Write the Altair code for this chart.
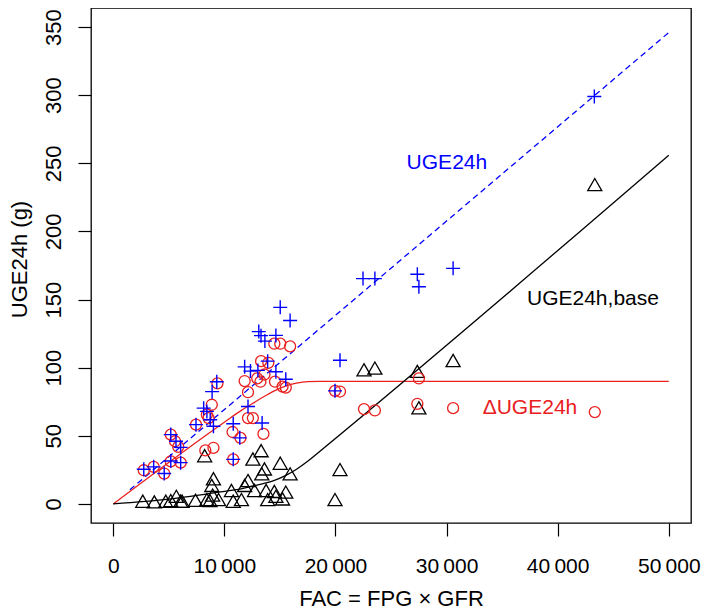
import altair as alt
import pandas as pd

# ---- data ----
uge_x = [2750, 3640, 4590, 5180, 5180, 5650, 6070, 6070, 7450, 8140, 8430, 8730, 8900, 9020, 9320,
         10800, 10800, 11390, 11830, 12130, 12350, 13020, 13100, 13300, 13400, 13650, 13900, 14640,
         14640, 15030, 15530, 15920, 19960, 20410, 22480, 23550, 27370, 27510, 30590, 43300]
uge_y = [25.5, 27.2, 22.3, 50.9, 31.5, 46, 41.5, 30.3, 58.2, 70.3, 67.9, 61.8, 82.4, 57, 89.7,
         58.8, 32.7, 48.5, 100.6, 71.5, 97.5, 98, 126.5, 123.5, 59.4, 119.5, 104.8, 123.7,
         97, 144.3, 91.5, 134.6, 83, 105.5, 165.4, 165.4, 168.6, 159.4, 172.9, 299]

delta_x = [2750, 3640, 4590, 5180, 5180, 5560, 5850, 6070, 7450, 8290, 8430, 8580, 8870, 9020, 9380,
           10740, 10800, 11450, 11830, 12130, 12130, 12570, 12960, 13250, 13310, 13520, 13610, 13960,
           14500, 14560, 15030, 15240, 15530, 15920, 19960, 20410, 22570, 23550, 27370, 27510, 30590, 43340]
delta_y = [24.7, 27.2, 22.3, 50.9, 31.2, 46, 41.9, 30.3, 58.2, 39.3, 65.5, 63, 72.8, 41.2, 88.5,
           52.8, 32.7, 48.5, 90.2, 82, 63, 63, 92.2, 89.7, 104.8, 51.4, 95, 103.6,
           117.6, 89.7, 117.6, 86.1, 85.4, 115.6, 83, 82.5, 69.6, 68.6, 73.5, 92.1, 70.3, 67.4]

base_x = [2660, 3700, 4730, 5180, 5680, 6070, 6200, 7400, 8230, 8430, 8700, 8870, 8950, 9020, 9480,
          10640, 10800, 11540, 11830, 12130, 12570, 12720, 13310, 13370, 13610, 13760, 13900, 14500,
          14640, 15030, 15240, 15530, 15920, 19960, 20410, 22570, 23550, 27370, 27510, 30590, 43340]
base_y = [0.5, 0, 0.5, 1, 4.1, 0.5, 0.5, 1.2, 33.9, 1.7, 1, 12.1, 5, 17, 1.7,
          8.4, 0.5, 1.7, 12.1, 15.7, 31.5, 8.4, 37.6, 20.6, 24.2, 8.4, 1.7, 7.7,
          4.1, 28.4, 2.2, 7.2, 20.6, 1.7, 23.7, 97, 98.2, 95.8, 69.1, 103.8, 232.9]

# fitted curves
uge_fit_x = [1500, 50000]
uge_fit_y = [10.4, 346]
delta_fit_x = [0, 10000, 11500, 12500, 13500, 14500, 15500, 16500, 17500, 18500, 50000]
delta_fit_y = [0, 60, 68.5, 73.5, 78.5, 83, 86.5, 88.7, 89.8, 90, 90]
base_fit_x = [0, 5000, 10000, 11500, 12500, 13500, 14500, 15500, 16500, 17500, 18500, 50000]
base_fit_y = [0, 3.5, 9.2, 11.1, 13, 14.9, 17.3, 20.8, 25.5, 31.3, 38, 256]

label_text = ["UGE24h", "UGE24h,base", "ΔUGE24h"]
label_x = [30030, 37240, 33250]
label_y = [250.4, 150.4, 70.3]
label_color = ["#0000FF", "#000000", "#E8201E"]
label_align = ["center", "left", "left"]

BLUE = "#0000FF"
RED = "#E8201E"
FONT = "Liberation Sans"
W, H = 600, 515

xs = alt.Scale(domain=[-2000, 52000], nice=False, zero=False)
ys = alt.Scale(domain=[-14, 364], nice=False, zero=False)

x_axis = alt.Axis(
    values=[0, 10000, 20000, 30000, 40000, 50000],
    labelExpr="datum.value == 0 ? '0' : format(floor(datum.value/1000), 'd') + '\u2009000'",
    title="FAC = FPG × GFR", grid=False, domain=False,
    tickSize=13, tickColor="black", tickWidth=1.2,
    labelFont=FONT, labelFontSize=21, labelColor="black", labelBaseline="alphabetic",
    labelPadding=36, labelFlush=False, labelOverlap=False,
    titleFont=FONT, titleFontSize=22, titleFontWeight="normal", titleColor="black",
    titleBaseline="alphabetic", titleX=W / 2, titleY=82, titleAnchor="middle",
)
y_axis = alt.Axis(
    values=[0, 50, 100, 150, 200, 250, 300, 350],
    title="UGE24h (g)", grid=False, domain=False,
    tickSize=13, tickColor="black", tickWidth=1.2,
    labelFont=FONT, labelFontSize=22, labelColor="black", labelAngle=270,
    labelAlign="center", labelBaseline="alphabetic", labelPadding=18, labelFlush=False,
    labelOverlap=False,
    titleFont=FONT, titleFontSize=22, titleFontWeight="normal", titleColor="black",
    titleAngle=270, titleAlign="center", titleBaseline="alphabetic", titleX=-65, titleY=251,
)

d_uge = pd.DataFrame({"x": uge_x, "y": uge_y})
d_delta = pd.DataFrame({"x": delta_x, "y": delta_y})
d_base = pd.DataFrame({"x": base_x, "y": base_y})
d_ufit = pd.DataFrame({"x": uge_fit_x, "y": uge_fit_y})
d_dfit = pd.DataFrame({"x": delta_fit_x, "y": delta_fit_y})
d_bfit = pd.DataFrame({"x": base_fit_x, "y": base_fit_y})
d_lab = pd.DataFrame({"t": label_text, "x": label_x, "y": label_y, "c": label_color, "a": label_align})

X = alt.X("x:Q", scale=xs, axis=x_axis)
Y = alt.Y("y:Q", scale=ys, axis=y_axis)
Xn = alt.X("x:Q", scale=xs)
Yn = alt.Y("y:Q", scale=ys)

axes_layer = alt.Chart(d_base).mark_point(opacity=0).encode(x=X, y=Y)

ufit = alt.Chart(d_ufit).mark_line(color=BLUE, strokeWidth=1.3, strokeDash=[6, 4]).encode(x=Xn, y=Yn)
dfit = alt.Chart(d_dfit).mark_line(color=RED, strokeWidth=1.3, interpolate="monotone").encode(x=Xn, y=Yn)
bfit = alt.Chart(d_bfit).mark_line(color="black", strokeWidth=1.3, interpolate="monotone").encode(x=Xn, y=Yn)

tri = alt.Chart(d_base).mark_point(
    shape="M0,-1L0.866,0.5L-0.866,0.5Z", filled=False, color="black", size=262, strokeWidth=1.3, opacity=1
).encode(x=Xn, y=Yn)
circ = alt.Chart(d_delta).mark_point(
    shape="circle", filled=False, color=RED, size=121, strokeWidth=1.3, opacity=1
).encode(x=Xn, y=Yn)
plus = alt.Chart(d_uge).mark_point(
    shape="M-1,0L1,0M0,-1L0,1", filled=False, color=BLUE, size=196, strokeWidth=1.4, opacity=1
).encode(x=Xn, y=Yn)

lab_c = alt.Chart(d_lab).transform_filter("datum.a == 'center'").mark_text(
    font=FONT, fontSize=21, baseline="middle", align="center"
).encode(x=Xn, y=Yn, text="t:N", color=alt.Color("c:N", scale=None))
lab_l = alt.Chart(d_lab).transform_filter("datum.a == 'left'").mark_text(
    font=FONT, fontSize=21, baseline="middle", align="left"
).encode(x=Xn, y=Yn, text="t:N", color=alt.Color("c:N", scale=None))

chart = alt.layer(axes_layer, ufit, dfit, bfit, tri, circ, plus, lab_c, lab_l).properties(
    width=W, height=H,
    autosize=alt.AutoSizeParams(type="none"),
    padding={"left": 83, "top": 0, "right": 10, "bottom": 88},
    background="white",
).configure_view(stroke="black", strokeWidth=1.3)

chart.save("out.html", embed_options={"renderer": "svg", "actions": False})
